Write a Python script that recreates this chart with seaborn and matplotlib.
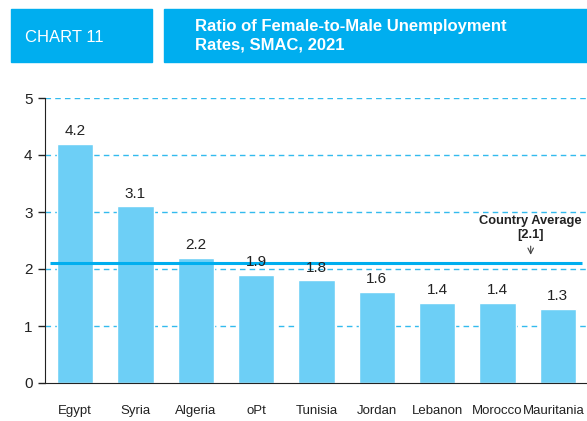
import matplotlib
matplotlib.use("Agg")
import matplotlib.pyplot as plt
import matplotlib.transforms as mtransforms
from matplotlib.patches import Rectangle
import pandas as pd
import seaborn as sns

# data
countries = ["Egypt", "Syria", "Algeria", "oPt", "Tunisia", "Jordan", "Lebanon", "Morocco", "Mauritania"]
ratios = [4.2, 3.1, 2.2, 1.9, 1.8, 1.6, 1.4, 1.4, 1.3]
average = 2.1
yticks = [0, 1, 2, 3, 4, 5]

bar_color = "#6dcff6"
blue = "#00aeef"

sns.set_style("white")
plt.rcParams["font.family"] = ["Liberation Sans", "DejaVu Sans"]

df = pd.DataFrame({"country": countries, "ratio": ratios})

fig = plt.figure(figsize=(5.87, 4.21), dpi=100)
ax = fig.add_axes([45 / 587, 1 - 383 / 421, 543 / 587, (383 - 98) / 421])

# grid first so bars sit on top
for y in yticks[1:]:
    ax.axhline(y, color="#33bbee", lw=1, ls=(0, (4, 3)), zorder=0)

sns.barplot(data=df, x="country", y="ratio", color=bar_color, width=0.6,
            saturation=1, ax=ax, zorder=2)

for i, v in enumerate(ratios):
    ax.text(i, v + 0.1, f"{v}", ha="center", va="bottom", fontsize=11, color="#222222", zorder=4)

ax.plot([-0.42, 8.4], [average, average], color=blue, lw=2.2, zorder=3, solid_capstyle="butt")
ax.text(7.55, 2.72, "Country Average\n[2.1]", ha="center", va="center", fontsize=9.3,
        fontweight="bold", color="#222222", linespacing=1.25)
ax.annotate("", xy=(7.55, 2.2), xytext=(7.55, 2.45),
            arrowprops=dict(arrowstyle="->", color="#444444", lw=0.8))

ax.set_xlim(-0.5, 8.5)
ax.set_ylim(0, 5)
ax.set_yticks(yticks)
ax.set_xlabel("")
ax.set_ylabel("")
ax.tick_params(axis="y", left=True, length=5, width=1, labelsize=11, colors="#222222", pad=4)
ax.tick_params(axis="x", bottom=False, labelsize=9.5, colors="#222222", pad=12)
for s in ["top", "right"]:
    ax.spines[s].set_visible(False)
ax.spines["left"].set_color("#222222")
ax.spines["bottom"].set_color("#222222")

# nudge the last label so it stays inside the figure
last = ax.get_xticklabels()[-1]
last.set_transform(last.get_transform() + mtransforms.ScaledTranslation(-4 / 100, 0, fig.dpi_scale_trans))

# header boxes
fig.patches.append(Rectangle((11 / 587, 1 - 62 / 421), 141 / 587, 53 / 421,
                             transform=fig.transFigure, color=blue, zorder=0))
fig.patches.append(Rectangle((164 / 587, 1 - 62 / 421), 423 / 587, 53 / 421,
                             transform=fig.transFigure, color=blue, zorder=0))
fig.text(25 / 587, 1 - 37 / 421, "CHART 11", color="white", fontsize=12, va="center", ha="left")
fig.text(195 / 587, 1 - 36 / 421, "Ratio of Female-to-Male Unemployment\nRates, SMAC, 2021",
         color="white", fontsize=12, fontweight="bold", va="center", ha="left", linespacing=1.25)

fig.savefig("out.png", dpi=100)
